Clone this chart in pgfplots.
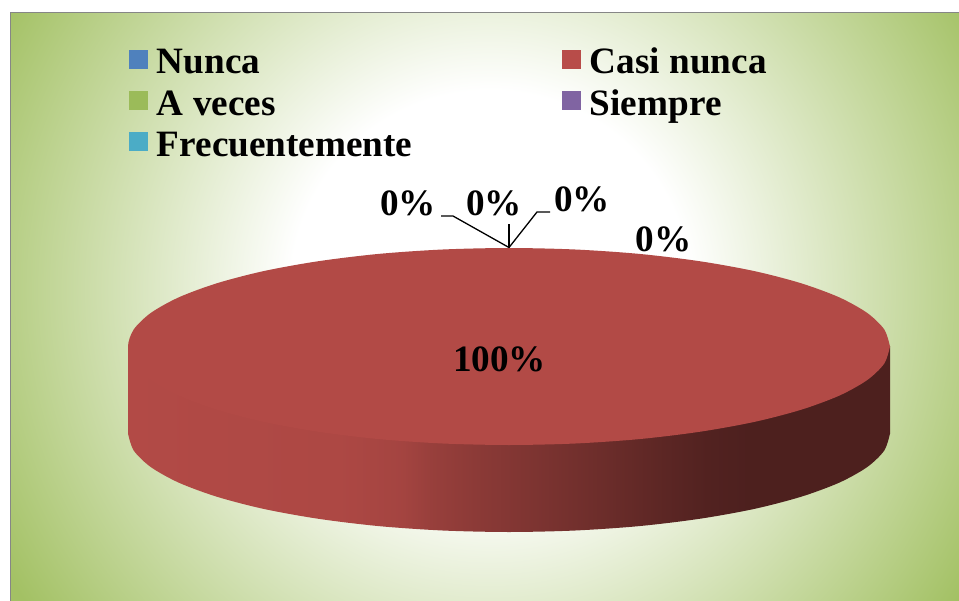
\documentclass[border=0pt]{standalone}
\usepackage{fontspec}
\setmainfont{Liberation Serif}
\usepackage{pgfplots}
\pgfplotsset{compat=1.18}
\definecolor{cNunca}{HTML}{4F81BD}
\definecolor{cCasi}{HTML}{B84C49}
\definecolor{cAveces}{HTML}{9BBB59}
\definecolor{cSiempre}{HTML}{8064A2}
\definecolor{cFrec}{HTML}{4BACC6}
\definecolor{cTop}{HTML}{B24A46}
\definecolor{bgGreen}{HTML}{A3C164}
\pgfdeclareradialshading{panelbg}{\pgfpoint{0bp}{0bp}}{
  color(0bp)=(white); color(8.9bp)=(white); color(25bp)=(bgGreen); color(50bp)=(bgGreen)}
\pgfdeclarehorizontalshading{sidegrad}{100bp}{
  color(0bp)=(cTop);
  color(25bp)=(cTop);
  color(39bp)=(cTop!97!black);
  color(43bp)=(cTop!92!black);
  color(45bp)=(cTop!85!black);
  color(48bp)=(cTop!78!black);
  color(56bp)=(cTop!61!black);
  color(60bp)=(cTop!52!black);
  color(63bp)=(cTop!46!black);
  color(66bp)=(cTop!43!black);
  color(100bp)=(cTop!43!black)}
\begin{document}
\begin{tikzpicture}
\begin{axis}[
  at={(0,0)}, scale only axis, width=959pt, height=601pt,
  xmin=0, xmax=959, ymin=0, ymax=601, y dir=reverse,
  hide axis, clip=true,
  legend columns=2,
  legend cell align=left,
  legend style={
    at={(0.1345,0.9203)}, anchor=north west, draw=none, fill=none,
    inner sep=0pt, outer sep=0pt,
    font=\fontsize{37.2}{37.2}\selectfont\bfseries,
    nodes={inner sep=0pt, outer sep=0pt, text height=26pt, text depth=0pt},
    /tikz/row sep=15.2pt,
    /tikz/every even column/.append style={column sep=149.5pt},
  },
  legend image code/.code={
    \fill[#1,draw=none] (0pt,-8pt) rectangle (19pt,11pt);
    \path[draw=none,fill=none] (0pt,-8pt) rectangle (28pt,11pt);
  },
]
% panel background
\addplot[forget plot, draw=none, shade, shading=panelbg]
  coordinates {(-70,-270) (1050,-270) (1050,850) (-70,850)} --cycle;
\addplot[forget plot, draw=none, fill=white]
  coordinates {(0,0) (959,0) (959,12) (0,12)} --cycle;
\addplot[forget plot, draw=none, fill=white]
  coordinates {(0,0) (10,0) (10,601) (0,601)} --cycle;
\addplot[forget plot, draw={rgb,255:red,134;green,134;blue,134}, line width=1.5pt]
  coordinates {(10.5,601) (10.5,12.5) (959,12.5)};
% pie wall: straight part
\addplot[forget plot, draw=none, shade, shading=sidegrad]
  coordinates {(128,346.5) (890,346.5) (890,433.5) (128,433.5)} --cycle;
% pie wall: lower rim
\addplot[forget plot, draw=none, shade, shading=sidegrad, smooth]
  coordinates {(128,433.5) (133.8,450.6) (151,467.2) (179,482.75) (217.1,496.8) (264.1,509) (318.5,518.8) (378.7,526.1) (442.8,530.5) (509,532) (575.2,530.5) (639.3,526.1) (699.5,518.8) (753.9,509) (800.9,496.8) (839,482.75) (867,467.2) (884.2,450.6) (890,433.5)} --cycle;
% pie top (Casi nunca = 100%)
\addplot[forget plot, draw=none, fill=cTop, smooth]
  coordinates {(890,346.5) (884.2,363.6) (867,380.2) (839,395.75) (800.9,409.8) (753.9,422) (699.5,431.8) (639.3,439.1) (575.2,443.5) (509,445) (442.8,443.5) (378.7,439.1) (318.5,431.8) (264.1,422) (217.1,409.8) (179,395.75) (151,380.2) (133.8,363.6) (128,346.5) (133.8,329.4) (151,312.8) (179,297.25) (217.1,283.2) (264.1,271) (318.5,261.2) (378.7,253.9) (442.8,249.5) (509,248) (575.2,249.5) (639.3,253.9) (699.5,261.2) (753.9,271) (800.9,283.2) (839,297.25) (867,312.8) (884.2,329.4) (890,346.5)} --cycle;
% leader lines
\addplot[forget plot, black, line width=1.3pt] coordinates {(441,216) (453,216) (509,247.5)};
\addplot[forget plot, black, line width=1.3pt] coordinates {(509,224) (509,247.5)};
\addplot[forget plot, black, line width=1.3pt] coordinates {(550,212) (537,212) (509,247.5)};
% legend
\addlegendimage{fill=cNunca} \addlegendentry{Nunca}
\addlegendimage{fill=cCasi} \addlegendentry{Casi nunca}
\addlegendimage{fill=cAveces} \addlegendentry{A veces}
\addlegendimage{fill=cSiempre} \addlegendentry{Siempre}
\addlegendimage{fill=cFrec} \addlegendentry{Frecuentemente}
% data labels
\addplot[forget plot, only marks, mark=none, point meta=explicit symbolic,
  nodes near coords, nodes near coords style={anchor=center, inner sep=0pt, black,
    font=\fontsize{37.2}{37.2}\selectfont\bfseries}]
  table[meta=label, row sep=crcr] {
    x y label\\
    408 203 0\%\\
    494 203 0\%\\
    582 199 0\%\\
    663.5 239 0\%\\
    499.5 359 100\%\\
  };
\end{axis}
\end{tikzpicture}
\end{document}
